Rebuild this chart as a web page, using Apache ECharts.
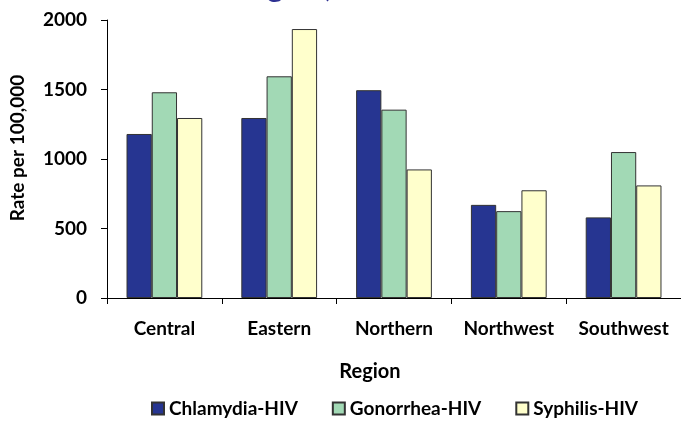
<!DOCTYPE html>
<html>
	<head>
		<meta charset="utf-8">
		<title>Rate per 100,000 by Region</title>
		<script src="https://cdn.jsdelivr.net/npm/echarts@6/dist/echarts.min.js"></script>
		<style>
			html, body { margin: 0; padding: 0; background: #fff; }
		</style>
	</head>
	<body>
		<div id="main" style="width: 681px;height:424px;"></div>
		<script type="text/javascript">
			// data
			var regions = ['Central', 'Eastern', 'Northern', 'Northwest', 'Southwest'];
			var chlamydia = [1180, 1295, 1495, 670, 580];
			var gonorrhea = [1480, 1595, 1355, 625, 1050];
			var syphilis = [1295, 1935, 925, 775, 810];
			var seriesNames = ['Chlamydia-HIV', 'Gonorrhea-HIV', 'Syphilis-HIV'];
			var colors = ['#263591', '#A2D9B5', '#FFFFCC'];

			var myChart = echarts.init(document.getElementById('main'));
			var font = 'Lato, "Open Sans", sans-serif';

			function makeBar(name, data, color) {
				return {
					name: name,
					type: 'bar',
					barGap: 0,
					barCategoryGap: '34%',
					itemStyle: {
						color: color,
						borderColor: '#333',
						borderWidth: 1
					},
					data: data
				};
			}

			option = {
				backgroundColor: '#fff',
				animation: false,
				// title sits mostly above the visible area, as in the source
				title: {
					text: 'Region, 2016',
					left: 228,
					top: -33,
					textStyle: {
						color: '#2E3192',
						fontFamily: font,
						fontWeight: 'bold',
						fontSize: 30
					}
				},
				legend: {
					bottom: 1,
					left: 146,
					icon: 'rect',
					itemWidth: 12,
					itemHeight: 12,
					itemGap: 34,
					textStyle: {
						fontFamily: font,
						fontWeight: 'bold',
						fontSize: 19,
						color: '#000'
					},
					data: seriesNames
				},
				grid: {
					left: 104,
					top: 20,
					width: 581,
					height: 278
				},
				xAxis: {
					type: 'category',
					data: regions,
					name: 'Region',
					nameLocation: 'middle',
					nameGap: 64,
					nameTextStyle: {
						fontFamily: font,
						fontWeight: 'bold',
						fontSize: 20,
						color: '#000',
						padding: [0, 48, 0, 0]
					},
					axisLine: { lineStyle: { color: '#000', width: 1 } },
					axisTick: { show: true, length: 6, lineStyle: { color: '#000' } },
					axisLabel: {
						interval: 0,
						hideOverlap: false,
						margin: 21,
						fontFamily: font,
						fontWeight: 'bold',
						fontSize: 19,
						color: '#000'
					}
				},
				yAxis: {
					type: 'value',
					min: 0,
					max: 2000,
					interval: 500,
					name: 'Rate per 100,000',
					nameLocation: 'middle',
					nameGap: 80,
					nameTextStyle: {
						fontFamily: font,
						fontWeight: 'bold',
						fontSize: 19,
						color: '#000',
						padding: [0, 0, 0, 22]
					},
					splitLine: { show: false },
					axisLine: { show: true, lineStyle: { color: '#000', width: 1 } },
					axisTick: { show: true, inside: false, length: 6, lineStyle: { color: '#000' } },
					axisLabel: {
						margin: 20,
						fontFamily: font,
						fontWeight: 'bold',
						fontSize: 19,
						color: '#000',
						formatter: function (v) { return String(v); }
					}
				},
				series: [
					makeBar(seriesNames[0], chlamydia, colors[0]),
					makeBar(seriesNames[1], gonorrhea, colors[1]),
					makeBar(seriesNames[2], syphilis, colors[2])
				]
			};
			myChart.setOption(option);
		</script>
	</body>
</html>
